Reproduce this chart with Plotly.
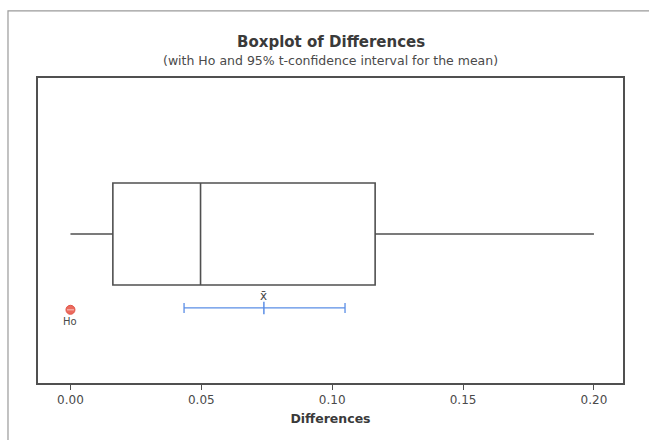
import plotly.graph_objects as go

# Five-number summary of the differences
q1 = [0.0162]
median = [0.0497]
q3 = [0.1164]
low_whisker = [0.0]
high_whisker = [0.2]

# Mean with its 95% t-confidence interval
mean_diff = [0.0739]
ci_low = [0.0434]
ci_high = [0.1049]

# Null hypothesis value
h0 = [0.0]

tick_vals = [0.0, 0.05, 0.10, 0.15, 0.20]
tick_text = ["0.00", "0.05", "0.10", "0.15", "0.20"]

FONT = "DejaVu Sans"
GRAY = "#4a4a4a"
BLUE = "#5b8ee6"

box_y = 0.4885
ci_y = 0.246

fig = go.Figure()

fig.add_trace(go.Box(
    orientation="h",
    y=[box_y],
    q1=q1, median=median, q3=q3,
    lowerfence=low_whisker, upperfence=high_whisker,
    width=0.334,
    whiskerwidth=0,
    fillcolor="rgba(255,255,255,0)",
    line=dict(color="#505050", width=1.6),
    hoverinfo="skip",
    showlegend=False,
))

# Confidence interval for the mean
fig.add_trace(go.Scatter(
    x=mean_diff, y=[ci_y], mode="markers",
    marker=dict(symbol="line-ns", size=9, line=dict(color=BLUE, width=1.5), color=BLUE),
    error_x=dict(type="data", symmetric=False,
                 array=[ci_high[0] - mean_diff[0]],
                 arrayminus=[mean_diff[0] - ci_low[0]],
                 color=BLUE, thickness=1.3, width=5),
    showlegend=False, hoverinfo="skip",
))

# Hypothesized value (circle with a light bar across)
fig.add_trace(go.Scatter(
    x=h0, y=[ci_y - 0.006], mode="markers",
    marker=dict(symbol="circle", size=9, color="#ec6a5e",
                line=dict(color="#e05548", width=1)),
    showlegend=False, hoverinfo="skip",
))
fig.add_trace(go.Scatter(
    x=h0, y=[ci_y - 0.006], mode="markers",
    marker=dict(symbol="line-ew", size=5, line=dict(color="#f6b8b0", width=1.2)),
    showlegend=False, hoverinfo="skip",
))

fig.add_annotation(x=mean_diff[0], y=ci_y, yshift=12, text="x\u0304",
                   showarrow=False, font=dict(family=FONT, size=12, color=GRAY))
fig.add_annotation(x=h0[0], y=ci_y, yshift=-14, text="Ho",
                   showarrow=False, font=dict(family=FONT, size=10, color=GRAY))

fig.update_xaxes(
    range=[-0.0124, 0.2111],
    tickvals=tick_vals, ticktext=tick_text,
    ticks="outside", ticklen=5, tickcolor="#505050", tickwidth=1,
    showgrid=False, zeroline=False,
    showline=True, linecolor="#505050", linewidth=1.5, mirror=True,
    tickfont=dict(family=FONT, size=12, color=GRAY),
    title=dict(text="<b>Differences</b>", font=dict(family=FONT, size=12.5, color="#3a3a3a"), standoff=8),
)
fig.update_yaxes(
    range=[0, 1], showticklabels=False, ticks="", showgrid=False, zeroline=False,
    showline=True, linecolor="#505050", linewidth=1.5, mirror=True,
)

fig.update_layout(
    width=649, height=440,
    margin=dict(l=38, r=26, t=78, b=57),
    paper_bgcolor="white", plot_bgcolor="white",
    shapes=[dict(type="rect", xref="paper", yref="paper",
                 x0=-0.0513, x1=1.2, y0=-0.5, y1=1.22,
                 line=dict(color="#9a9a9a", width=1.2))],
    annotations=list(fig.layout.annotations) + [
        dict(xref="paper", yref="paper", x=0.5, y=1.0, yshift=25, yanchor="bottom",
             text="<b>Boxplot of Differences</b>", showarrow=False,
             font=dict(family=FONT, size=15, color="#3a3a3a")),
        dict(xref="paper", yref="paper", x=0.5, y=1.0, yshift=8, yanchor="bottom",
             text="(with Ho and 95% t-confidence interval for the mean)", showarrow=False,
             font=dict(family=FONT, size=12.5, color=GRAY)),
    ],
)

fig.write_html("out.html")
